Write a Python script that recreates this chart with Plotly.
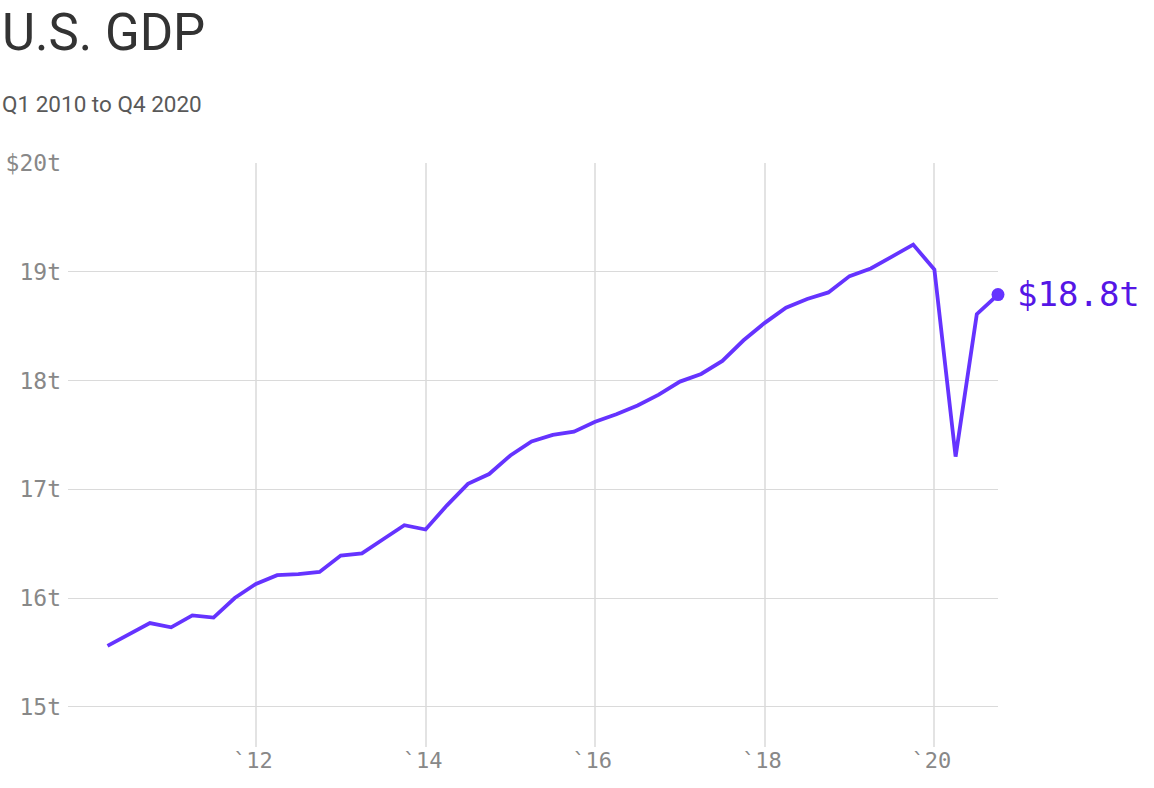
import plotly.graph_objects as go

# ---- data ----
# quarter positions as fractional years (Q2 2010 ... Q4 2020 start of quarter)
quarter_years = [2010 + 0.25 * i for i in range(1, 44)]
gdp_trillions = [15.56, 15.67, 15.77, 15.73, 15.84, 15.82, 16.00, 16.13, 16.21, 16.22,
                 16.24, 16.39, 16.41, 16.54, 16.67, 16.63, 16.85, 17.05, 17.14, 17.31,
                 17.44, 17.50, 17.53, 17.62, 17.69, 17.77, 17.87, 17.99, 18.06, 18.18,
                 18.37, 18.53, 18.67, 18.75, 18.81, 18.96, 19.03, 19.14, 19.25, 19.02,
                 17.30, 18.61, 18.79]
y_tickvals = [15, 16, 17, 18, 19, 20]
y_ticktext = ["15t", "16t", "17t", "18t", "19t", "$20t"]
x_tickvals = [2012, 2014, 2016, 2018, 2020]
x_ticktext = ["`12", "`14", "`16", "`18", "`20"]
title = "U.S. GDP"
subtitle = "Q1 2010 to Q4 2020"
last_label = "$18.8t"

LINE = "#6533ff"
LABEL = "#5516e6"
MONO = "DejaVu Sans Mono"

fig = go.Figure()
fig.add_trace(go.Scatter(
    x=quarter_years, y=gdp_trillions, mode="lines",
    line=dict(color=LINE, width=3.8),
    hoverinfo="skip", cliponaxis=False,
))
fig.add_trace(go.Scatter(
    x=[quarter_years[-1]], y=[gdp_trillions[-1]], mode="markers",
    marker=dict(color=LINE, size=13),
    hoverinfo="skip", cliponaxis=False,
))

fig.add_annotation(
    x=quarter_years[-1], y=gdp_trillions[-1], text=last_label,
    xanchor="left", yanchor="middle", xshift=17, yshift=1,
    showarrow=False, font=dict(family=MONO, size=34, color=LABEL),
)
fig.add_annotation(
    xref="paper", yref="paper", x=0, y=1, xshift=-68, yshift=131,
    text=title, xanchor="left", yanchor="middle", showarrow=False,
    font=dict(family="Roboto", size=51, color="#333333"),
)
fig.add_annotation(
    xref="paper", yref="paper", x=0, y=1, xshift=-68, yshift=59,
    text=subtitle, xanchor="left", yanchor="middle", showarrow=False,
    font=dict(family="Roboto", size=22.5, color="#595959"),
)

fig.update_layout(
    width=1154, height=788,
    margin=dict(l=68, r=156, t=163, b=41),
    paper_bgcolor="white", plot_bgcolor="white",
    showlegend=False,
    xaxis=dict(
        range=[2009.784, 2020.75], automargin=False,
        tickvals=x_tickvals, ticktext=x_ticktext,
        showgrid=True, gridcolor="#e3e3e3", gridwidth=2,
        zeroline=False, showline=False, ticks="",
        tickfont=dict(family=MONO, size=22, color="#888888"),
        ticklabelstandoff=-2, ticklabelshift=-3,
    ),
    yaxis=dict(
        range=[14.63, 20], automargin=False,
        tickvals=y_tickvals, ticktext=y_ticktext,
        showgrid=True, gridcolor="#dadada", gridwidth=1.3,
        zeroline=False, showline=False, ticks="",
        tickfont=dict(family=MONO, size=23, color="#888888"),
        ticklabelstandoff=6,
    ),
)

fig.write_html(
    "out.html",
    config={"displayModeBar": False},
    post_script="document.body.style.margin='0';",
)
